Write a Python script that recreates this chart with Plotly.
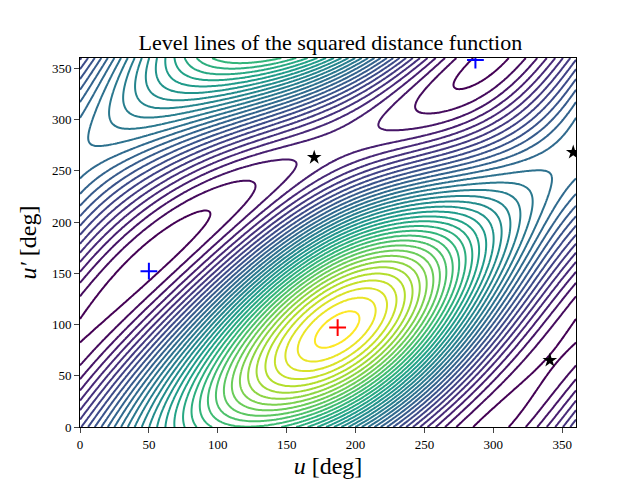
import numpy as np
import itertools
import plotly.graph_objects as go

# critical points
max_pt_u, max_pt_up = [187], [97]
min_u, min_up = [50, 287], [152, 358]
sad_u, sad_up = [170, 358, 341], [263, 268, 65]


def d2(U, UP, e1, e2, inc, om, a2):
    x1 = np.cos(U) - e1; y1 = np.sqrt(1 - e1**2) * np.sin(U)
    xp = a2 * (np.cos(UP) - e2); yp = a2 * np.sqrt(1 - e2**2) * np.sin(UP)
    x2 = xp * np.cos(om) - yp * np.sin(om)
    y2t = xp * np.sin(om) + yp * np.cos(om)
    y2 = y2t * np.cos(inc); z2 = y2t * np.sin(inc)
    return (x1 - x2)**2 + (y1 - y2)**2 + z2**2


def wrap(a):
    return (a + 180) % 360 - 180

# fit the orbit geometry to the critical points (deterministic grid search)
g = np.radians(np.arange(0, 360, 5))
GU, GUP = np.meshgrid(g, g)
targets = [(wrap(min_u[i] - max_pt_u[0]), wrap(min_up[i] - max_pt_up[0])) for i in range(2)]
best = None
for e1, e2, inc, om, a2 in itertools.product([0, .2, .4, .6], [0, .2, .4, .6], [10, 30, 50, 70],
                                              range(0, 360, 30), [0.8, 1.0, 1.3]):
    D = d2(GU, GUP, e1, e2, np.radians(inc), np.radians(om), a2)
    iy, ix = np.unravel_index(np.argmax(D), D.shape)
    m = np.ones_like(D, bool)
    for dy in (-1, 0, 1):
        for dx in (-1, 0, 1):
            if dy or dx:
                m &= D < np.roll(np.roll(D, dy, 0), dx, 1)
    ys, xs = np.nonzero(m)
    if len(ys) != 2:
        continue
    offs = [(wrap(5 * (xs[k] - ix)), wrap(5 * (ys[k] - iy))) for k in range(2)]
    s = min(sum(np.hypot(wrap(offs[k][0] - targets[p[k]][0]), wrap(offs[k][1] - targets[p[k]][1]))
                for k in range(2)) for p in [(0, 1), (1, 0)])
    if best is None or s < best[0]:
        best = (s, (e1, e2, inc, om, a2), 5 * ix, 5 * iy)

_, (e1, e2, inc, om, a2), mx, my = best
u_deg = np.linspace(0, 360, 241)
up_deg = np.linspace(0, 360, 241)
U, UP = np.meshgrid(np.radians(u_deg - (max_pt_u[0] - mx)), np.radians(up_deg - (max_pt_up[0] - my)))
D2 = d2(U, UP, e1, e2, np.radians(inc), np.radians(om), a2)
lo, hi = D2.min(), D2.max()
step = (hi - lo) / 36

fig = go.Figure()
fig.add_trace(go.Contour(x=u_deg, y=up_deg, z=D2, colorscale="Viridis", showscale=False,
                         contours=dict(coloring="lines", start=lo + step * 0.5, end=hi, size=step),
                         line=dict(width=2)))
fig.add_trace(go.Scatter(x=max_pt_u, y=max_pt_up, mode="markers",
                         marker=dict(symbol="cross-thin", size=12, line=dict(color="red", width=2))))
fig.add_trace(go.Scatter(x=min_u, y=min_up, mode="markers",
                         marker=dict(symbol="cross-thin", size=12, line=dict(color="blue", width=2))))
fig.add_trace(go.Scatter(x=sad_u, y=sad_up, mode="markers",
                         marker=dict(symbol="star", size=11, color="black")))
fig.update_layout(width=632, height=472, showlegend=False, plot_bgcolor="white", paper_bgcolor="white",
                  margin=dict(l=72, r=64, t=50, b=53, pad=0),
                  font=dict(family="Liberation Serif", color="black"),
                  title=dict(text="Level lines of the squared distance function", x=0.51,
                             y=1 - 34 / 472, yanchor="middle", yref="container",
                             xanchor="center", font=dict(size=22)))
ax = dict(range=[0, 360], tickvals=list(range(0, 351, 50)), showgrid=False, zeroline=False,
          automargin=False, showline=True, linecolor="black", mirror=True, ticks="outside",
          tickfont=dict(size=13))
fig.update_xaxes(title=dict(text="<i>u</i> [deg]", font=dict(size=24), standoff=6), **ax)
fig.update_yaxes(title=dict(text="<i>u′</i> [deg]", font=dict(size=24), standoff=8), **ax)
fig.write_html("out.html")
